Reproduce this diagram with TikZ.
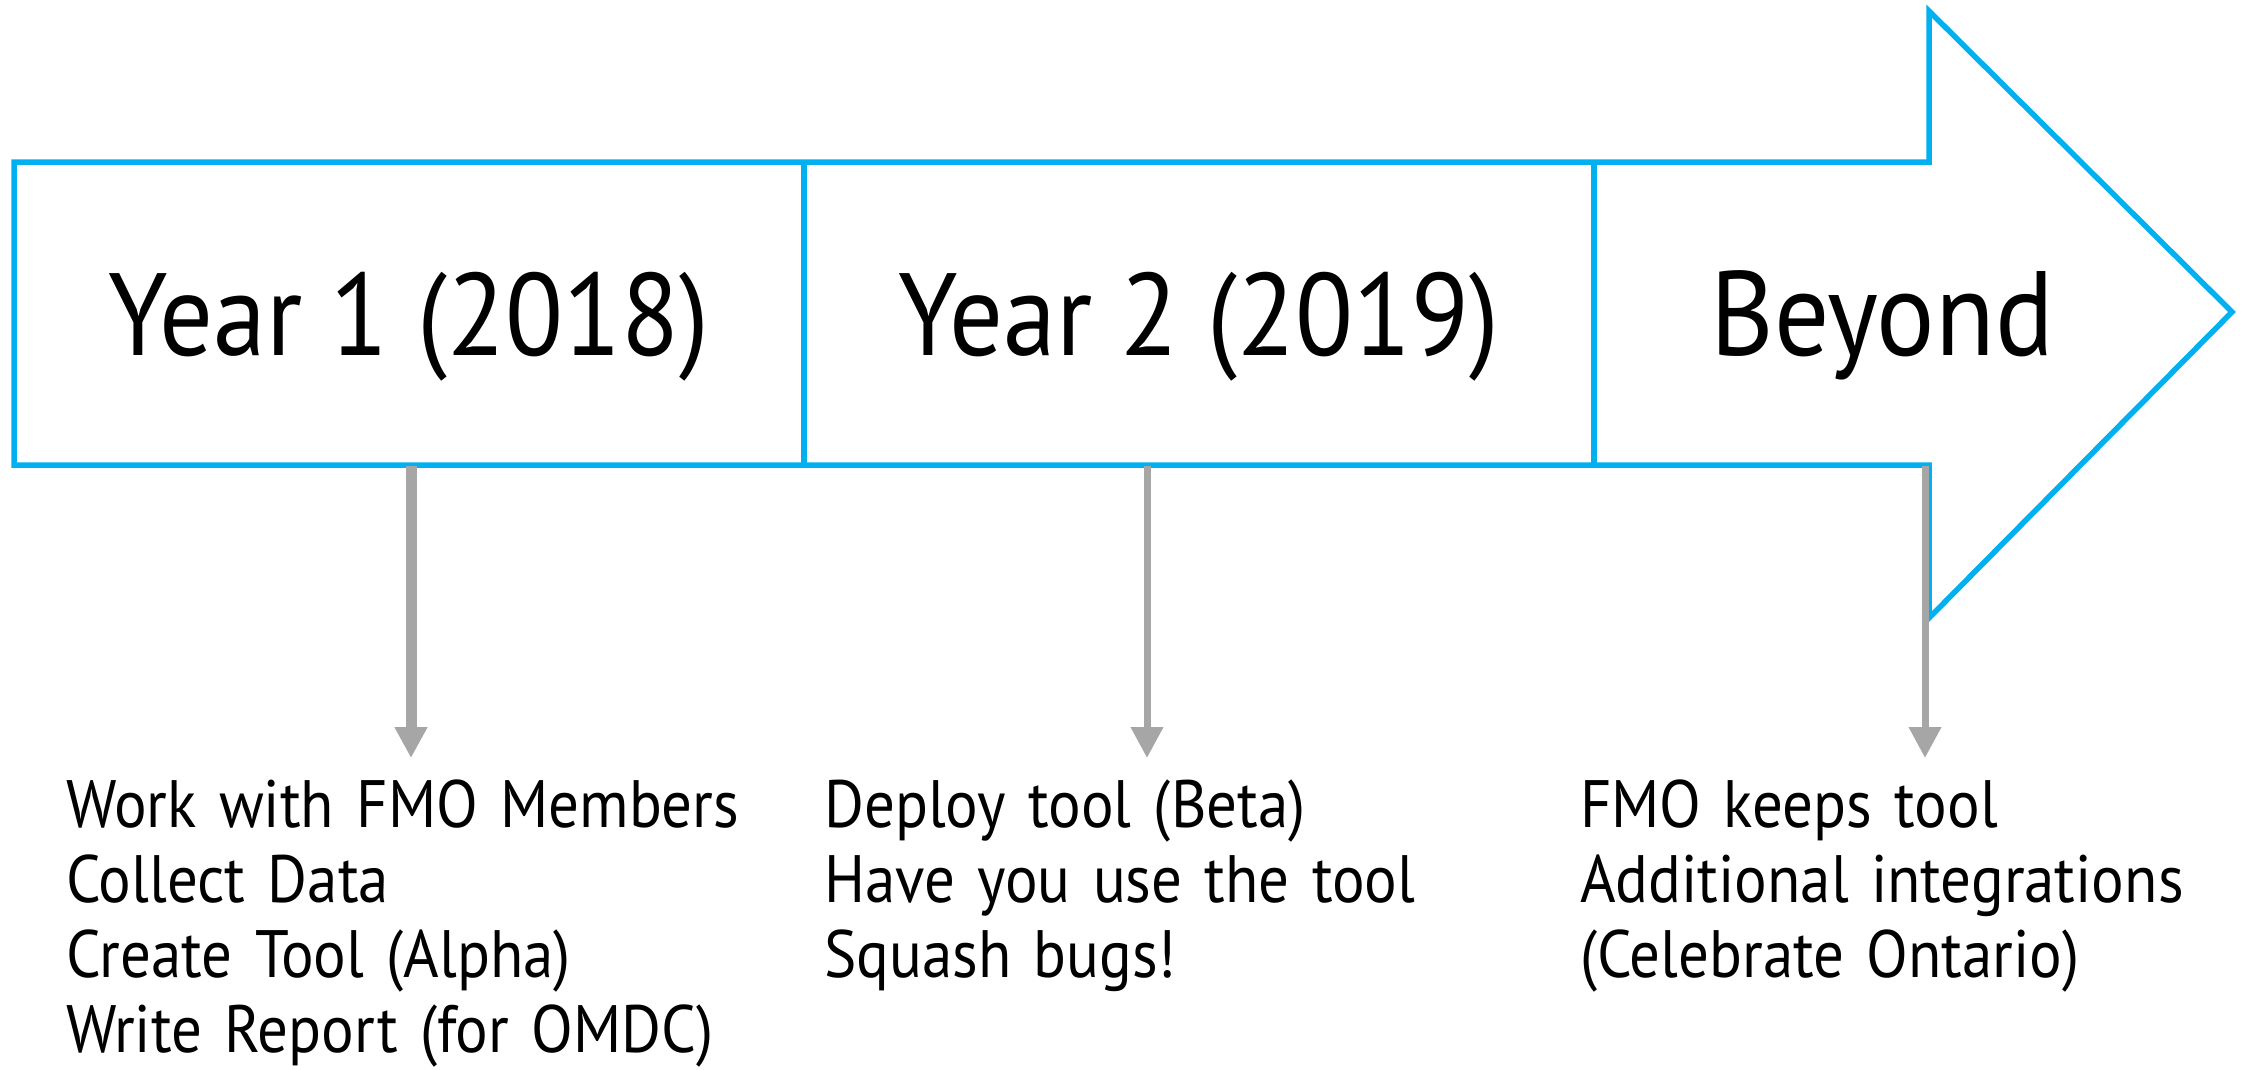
\documentclass[tikz,border=0pt]{standalone}
\usepackage{fontspec}
\setmainfont[FakeStretch=0.91]{PT Sans}
\usetikzlibrary{arrows.meta}
\definecolor{timeblue}{RGB}{0,176,240}
\definecolor{dropgray}{RGB}{166,166,166}
\tikzset{
  outline/.style={draw=timeblue, line width=5.5pt, line join=miter},
  drop/.style={draw=dropgray, -{Triangle[width=31pt,length=31pt]}},
  phase/.style={anchor=base, inner sep=0pt, font=\fontsize{117}{130}\selectfont},
  tasks/.style={anchor=base west, inner sep=0pt, text width=820pt, align=left,
    font=\fontsize{67}{75}\selectfont},
}
\begin{document}
\begin{tikzpicture}[x=1pt, y=-1pt]
  \useasboundingbox (0,0) rectangle (2244,1069);

  % timeline arrow with its three sections
  \draw[outline] (14,162) -- (1929,162) -- (1929,11) -- (2232,312)
    -- (1929,618) -- (1929,465) -- (14,465) -- cycle;
  \draw[outline] (804,162) -- (804,465);
  \draw[outline] (1594,162) -- (1594,465);

  % phase titles
  \node[phase] (y1) at (409,355) {Year 1 (2018)};
  \node[phase] (y2) at (1199,355) {Year 2 (2019)};
  \node[phase, font=\fontsize{120}{130}\selectfont] (yb) at (1882,355) {Beyond};

  % task lists
  \node[tasks] (t1) at (66,827) {Work with FMO Members\\Collect Data\\Create Tool (Alpha)\\Write Report (for OMDC)};
  \node[tasks] (t2) at (824,827) {Deploy tool (Beta)\\Have you use the tool\\Squash bugs!};
  \node[tasks] (t3) at (1580,827) {FMO keeps tool\\Additional integrations\\(Celebrate Ontario)};

  % drop arrows from the sections to their tasks
  \coordinate (s1) at (411,466);  \coordinate (e1) at (411,758);
  \coordinate (s2) at (1147,466); \coordinate (e2) at (1147,758);
  \coordinate (s3) at (1925,466); \coordinate (e3) at (1925,758);
  \draw[drop, line width=11pt] (s1) -- (e1);
  \draw[drop, line width=7pt] (s2) -- (e2);
  \draw[drop, line width=7pt] (s3) -- (e3);
\end{tikzpicture}
\end{document}
